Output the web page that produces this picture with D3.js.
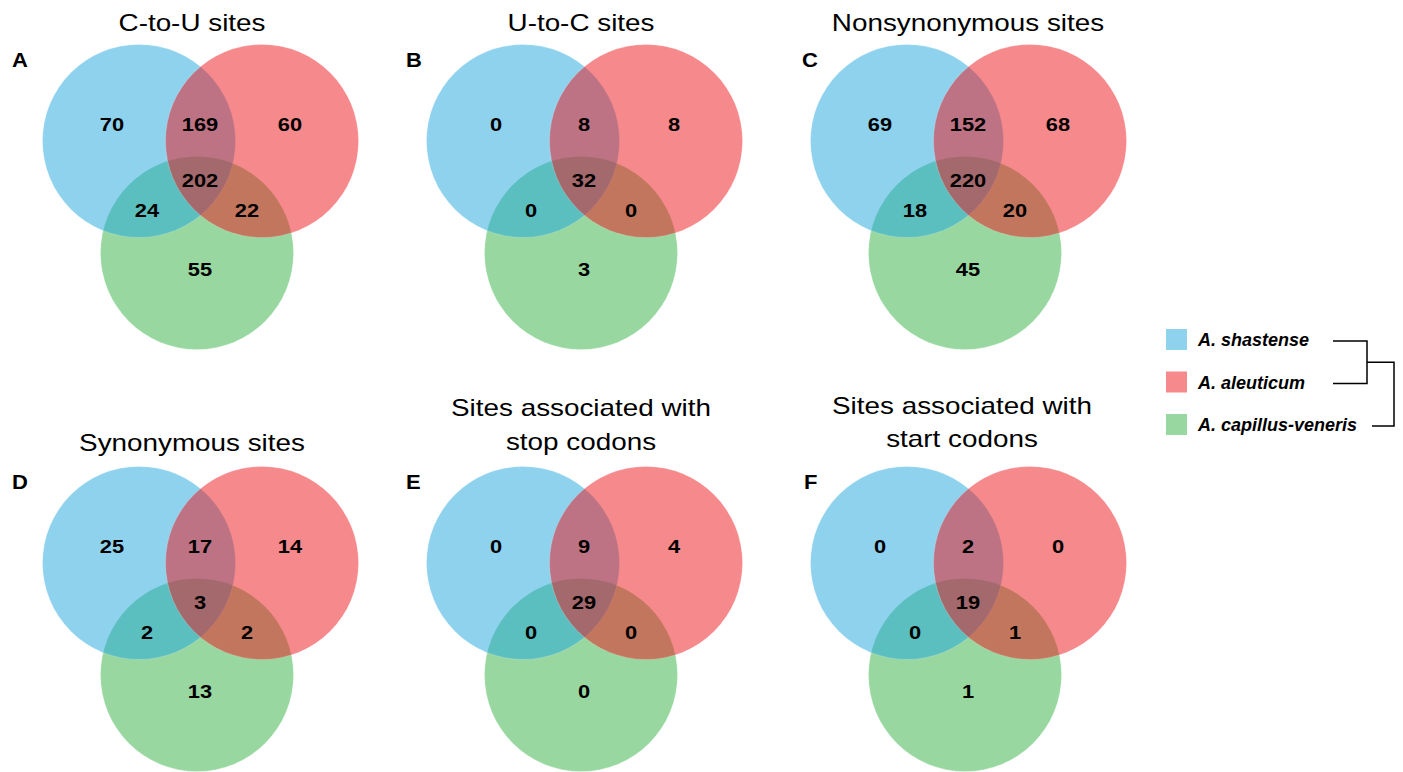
<!DOCTYPE html>
<html>
<head>
<meta charset="utf-8">
<script src="https://cdn.jsdelivr.net/npm/d3@7"></script>
<style>
  html, body { margin: 0; padding: 0; background: #fff; }
  svg { display: block; }
  text { font-family: "Liberation Sans", Arial, Helvetica, sans-serif; }
</style>
</head>
<body>
<svg id="chart" width="1403" height="772"></svg>
<script>
// Panels: letter and title lines
const panelLetters = ["A", "B", "C", "D", "E", "F"];
const panelTitles = [
  ["C-to-U sites"],
  ["U-to-C sites"],
  ["Nonsynonymous sites"],
  ["Synonymous sites"],
  ["Sites associated with", "stop codons"],
  ["Sites associated with", "start codons"]
];

// Species (legend order) and their fill colours
const species = ["A. shastense", "A. aleuticum", "A. capillus-veneris"];
const speciesColors = ["#1fa5dd", "#eb1319", "#31b141"];

// Region counts, one value per panel (A..F)
const onlyShastense      = [70, 0, 69, 25, 0, 0];
const onlyAleuticum      = [60, 8, 68, 14, 4, 0];
const onlyCapillus       = [55, 3, 45, 13, 0, 1];
const shastenseAleuticum = [169, 8, 152, 17, 9, 2];
const shastenseCapillus  = [24, 0, 18, 2, 0, 0];
const aleuticumCapillus  = [22, 0, 20, 2, 0, 1];
const allThree           = [202, 32, 220, 3, 29, 19];

const svg = d3.select("#chart");

// Panel grid: 3 columns x 2 rows
const colX = d3.scalePoint().domain([0, 1, 2]).range([0, 768]);
const rowY = d3.scalePoint().domain([0, 1]).range([0, 422]);

// Circle layout inside a panel (species index -> centre)
const R = 96.5;
const circleCentres = [
  { i: 0, cx: 139, cy: 141 },   // A. shastense
  { i: 1, cx: 262, cy: 141 },   // A. aleuticum
  { i: 2, cx: 197, cy: 253 }    // A. capillus-veneris
];
// draw order: capillus, shastense, aleuticum
const drawOrder = [2, 0, 1];

// Region label anchors inside a panel
const regions = [
  { values: onlyShastense,      x: 112, y: 124 },
  { values: shastenseAleuticum, x: 200, y: 124 },
  { values: onlyAleuticum,      x: 290, y: 124 },
  { values: allThree,           x: 200, y: 180 },
  { values: shastenseCapillus,  x: 147, y: 210 },
  { values: aleuticumCapillus,  x: 247, y: 210 },
  { values: onlyCapillus,       x: 200, y: 269 }
];

// Title placement (centre x, baseline of last line) inside a panel
const titleX = [192, 197, 200, 192, 197, 194];
const titleBase = [31, 31, 31, 29, 27.5, 25];
const titleLineH = 33.5;
const letterX = [12, 22, 34, 12, 22, 36];

panelLetters.forEach((letter, p) => {
  const col = p % 3, row = Math.floor(p / 3);
  const g = svg.append("g")
    .attr("transform", `translate(${colX(col)},${rowY(row)})`);

  // circles
  g.selectAll("circle")
    .data(drawOrder.map(k => circleCentres[k]))
    .join("circle")
    .attr("cx", d => d.cx)
    .attr("cy", d => d.cy)
    .attr("r", R)
    .attr("fill", d => speciesColors[d.i])
    .attr("fill-opacity", 0.5)
    .attr("stroke", "#ffffff")
    .attr("stroke-opacity", 0.25)
    .attr("stroke-width", 0.8);

  // counts
  g.selectAll("text.count")
    .data(regions)
    .join("text")
    .attr("class", "count")
    .attr("transform", d => `translate(${d.x},${d.y}) scale(1.15,1)`)
    .attr("text-anchor", "middle")
    .attr("dominant-baseline", "central")
    .attr("font-size", 19)
    .attr("font-weight", "bold")
    .attr("fill", "#000")
    .text(d => d.values[p]);

  // title
  const lines = panelTitles[p];
  g.selectAll("text.title")
    .data(lines)
    .join("text")
    .attr("class", "title")
    .attr("transform", (d, k) =>
      `translate(${titleX[p]},${titleBase[p] - (lines.length - 1 - k) * titleLineH}) scale(1.16,1)`)
    .attr("text-anchor", "middle")
    .attr("font-size", 24)
    .attr("fill", "#000")
    .text(d => d);

  // panel letter
  g.append("text")
    .attr("transform", `translate(${letterX[p]},67) scale(1.1,1)`)
    .attr("font-size", 20)
    .attr("font-weight", "bold")
    .attr("fill", "#000")
    .text(letter);
});

// Legend
const legend = svg.append("g").attr("transform", "translate(1166,329)");
const legendY = d3.scalePoint().domain(species).range([0, 85]);
legend.selectAll("rect")
  .data(species)
  .join("rect")
  .attr("x", 0)
  .attr("y", d => legendY(d))
  .attr("width", 21)
  .attr("height", 21)
  .attr("fill", (d, i) => speciesColors[i])
  .attr("fill-opacity", 0.5);
legend.selectAll("text")
  .data(species)
  .join("text")
  .attr("x", 32)
  .attr("y", d => legendY(d) + 17)
  .attr("font-size", 18)
  .attr("font-weight", "bold")
  .attr("font-style", "italic")
  .attr("fill", "#000")
  .text(d => d);

// Cladogram bracket beside the legend
const tree = svg.append("g")
  .attr("fill", "none")
  .attr("stroke", "#000")
  .attr("stroke-width", 1.5);
const yS = 329 + legendY(species[0]) + 12;
const yA = 329 + legendY(species[1]) + 12;
const yC = 329 + legendY(species[2]) + 12;
const yMid = (yS + yA) / 2;
tree.append("path")
  .attr("d", `M1333,${yS}H1367V${yA}H1333`);
tree.append("path")
  .attr("d", `M1367,${yMid}H1394V${yC}H1372`);
</script>
</body>
</html>
